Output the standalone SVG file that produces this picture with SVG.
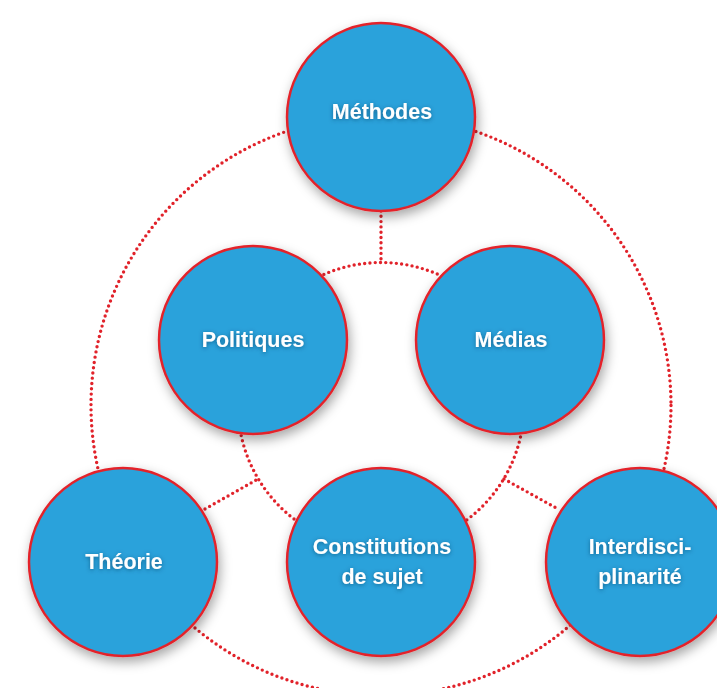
<svg xmlns="http://www.w3.org/2000/svg" width="717" height="688" viewBox="0 0 717 688">
<defs>
<style>
.dot{fill:none;stroke:#e1222a;stroke-width:3.4;stroke-linecap:round;stroke-dasharray:0 5.3}
.node{fill:#29a2db;stroke:#e3242b;stroke-width:2.5;filter:url(#sh)}
.lbl{font-family:"Liberation Sans",Arial,sans-serif;font-weight:bold;font-size:21.5px;fill:#ffffff;text-anchor:middle;filter:url(#tsh)}
</style>
<filter id="sh" x="-30%" y="-30%" width="160%" height="160%">
<feDropShadow dx="2" dy="5" stdDeviation="6" flood-color="#000" flood-opacity="0.35"/>
</filter>
<filter id="tsh" x="-20%" y="-40%" width="140%" height="180%">
<feDropShadow dx="0" dy="1" stdDeviation="2" flood-color="#0a3a60" flood-opacity="0.6"/>
</filter>
</defs>
<rect width="717" height="688" fill="#ffffff"/>
<g id="connectors">
<circle class="dot" cx="381" cy="405.5" r="290"/>
<circle class="dot" cx="381" cy="405.5" r="143"/>
<line class="dot" x1="381" y1="211" x2="381" y2="263"/>
<line class="dot" x1="205" y1="509" x2="258" y2="479"/>
<line class="dot" x1="504" y1="479" x2="558" y2="509"/>
</g>
<g id="methodes"><circle class="node" cx="381" cy="117" r="94"/><text class="lbl" x="382" y="119">Méthodes</text></g>
<g id="politiques"><circle class="node" cx="253" cy="340" r="94"/><text class="lbl" x="253" y="347">Politiques</text></g>
<g id="medias"><circle class="node" cx="510" cy="340" r="94"/><text class="lbl" x="511" y="347">Médias</text></g>
<g id="theorie"><circle class="node" cx="123" cy="562" r="94"/><text class="lbl" x="124" y="569">Théorie</text></g>
<g id="constitutions"><circle class="node" cx="381" cy="562" r="94"/><text class="lbl" x="382" y="554">Constitutions</text><text class="lbl" x="382" y="584">de sujet</text></g>
<g id="interdisciplinarite"><circle class="node" cx="640" cy="562" r="94"/><text class="lbl" x="640" y="554">Interdisci-</text><text class="lbl" x="640" y="584">plinarité</text></g>
</svg>
